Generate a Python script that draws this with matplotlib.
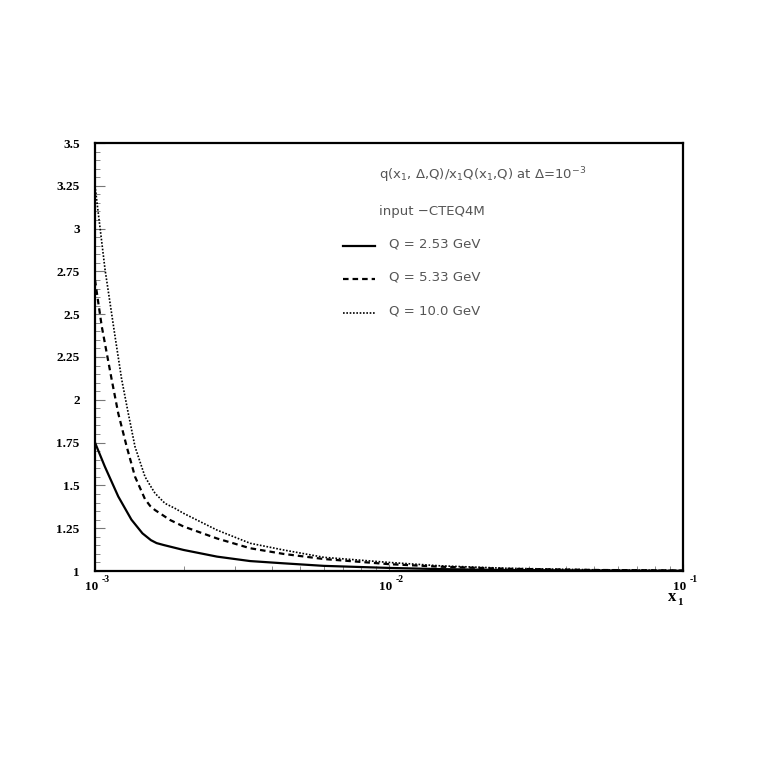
import matplotlib
matplotlib.use("Agg")
import matplotlib.pyplot as plt
import matplotlib.transforms as mtransforms
from matplotlib.ticker import LogLocator, NullFormatter, MultipleLocator

# ---- data ----
x_solid = [1.0e-3, 1.08e-3, 1.2e-3, 1.33e-3, 1.45e-3, 1.55e-3, 1.62e-3, 1.71e-3, 2.0e-3,
           2.6e-3, 3.37e-3, 4.37e-3, 6e-3, 1e-2, 1.5e-2, 2.5e-2, 5e-2, 1e-1]
y_solid = [1.75, 1.61, 1.435, 1.30, 1.22, 1.18, 1.163, 1.152, 1.123,
           1.084, 1.058, 1.045, 1.03, 1.018, 1.011, 1.006, 1.003, 1.001]

x_dash = [1.0e-3, 1.054e-3, 1.139e-3, 1.2e-3, 1.282e-3, 1.368e-3, 1.479e-3, 1.54e-3, 1.6e-3,
          1.8e-3, 2.0e-3, 2.6e-3, 3.37e-3, 4.37e-3, 6e-3, 1e-2, 1.5e-2, 2.5e-2, 5e-2, 1e-1]
y_dash = [2.70, 2.43, 2.12, 1.92, 1.726, 1.551, 1.42, 1.38, 1.356,
          1.298, 1.26, 1.19, 1.133, 1.10, 1.07, 1.04, 1.025, 1.013, 1.006, 1.003]

x_dot = [1.0e-3, 1.082e-3, 1.17e-3, 1.232e-3, 1.298e-3, 1.368e-3, 1.479e-3, 1.54e-3, 1.6e-3,
         1.73e-3, 1.87e-3, 2.0e-3, 2.6e-3, 3.37e-3, 4.37e-3, 6e-3, 1e-2, 1.5e-2, 2.5e-2, 5e-2, 1e-1]
y_dot = [3.25, 2.76, 2.37, 2.12, 1.92, 1.726, 1.551, 1.50, 1.454,
         1.395, 1.366, 1.337, 1.239, 1.162, 1.123, 1.08, 1.05, 1.03, 1.016, 1.007, 1.003]

labels = ["Q = 2.53 GeV", "Q = 5.33 GeV", "Q = 10.0 GeV"]
title_line = r"q(x$_1$, $\Delta$,Q)/x$_1$Q(x$_1$,Q) at $\Delta$=10$^{-3}$"
input_line = "input \u2212CTEQ4M"

y_ticks = [1, 1.25, 1.5, 1.75, 2, 2.25, 2.5, 2.75, 3, 3.25, 3.5]
y_ticklabels = ["1", "1.25", "1.5", "1.75", "2", "2.25", "2.5", "2.75", "3", "3.25", "3.5"]
x_ticks = [1e-3, 1e-2, 1e-1]
x_tick_exps = ["-3", "-2", "-1"]

# ---- figure ----
W = 763
fig = plt.figure(figsize=(7.63, 7.63), dpi=100)
ax = fig.add_axes([95/W, 1-571/W, (683-95)/W, (571-143)/W])

ax.plot(x_solid, y_solid, color="black", lw=1.6, ls="-")
ax.plot(x_dash, y_dash, color="black", lw=1.6, ls=(0, (2.5, 1.8)))
ax.plot(x_dot, y_dot, color="black", lw=1.2, ls=(0, (1, 1)))

ax.set_xscale("log")
ax.set_xlim(1e-3, 1e-1)
ax.set_ylim(1, 3.5)

for s in ax.spines.values():
    s.set_linewidth(1.6)

ax.set_yticks(y_ticks)
ax.set_yticklabels(y_ticklabels, fontfamily="Liberation Serif", fontweight="bold", fontsize=9.5)
ax.yaxis.set_minor_locator(MultipleLocator(0.05))
ax.tick_params(axis="y", which="major", direction="in", length=7, width=0.8, pad=11, color="#777777")
ax.tick_params(axis="y", which="minor", direction="in", length=3.5, width=0.6, color="#777777")

ax.set_xticks(x_ticks)
ax.set_xticklabels([])
ax.xaxis.set_minor_locator(LogLocator(base=10, subs=range(2, 10)))
ax.xaxis.set_minor_formatter(NullFormatter())
ax.tick_params(axis="x", which="major", direction="in", length=5, width=0.8, color="#777777")
ax.tick_params(axis="x", which="minor", direction="in", length=3.5, width=0.6, color="#777777")

# custom x tick labels "10" with raised exponent
off = mtransforms.offset_copy
for xv, ex in zip(x_ticks, x_tick_exps):
    base = mtransforms.blended_transform_factory(ax.transData, fig.transFigure)
    ax.text(xv, 1-590/W, "10", transform=off(base, fig=fig, x=3, y=0, units="dots"),
            ha="right", va="baseline", fontfamily="Liberation Serif", fontweight="bold",
            fontsize=9.5, clip_on=False)
    ax.text(xv, 1-582/W, ex, transform=off(base, fig=fig, x=7, y=0, units="dots"),
            ha="left", va="baseline", fontfamily="Liberation Serif", fontweight="bold",
            fontsize=7, clip_on=False)

# x-axis label
fig.text(676/W, 1-601/W, "x", ha="right", va="baseline",
         fontfamily="Liberation Serif", fontweight="bold", fontsize=12)
fig.text(677/W, 1-605/W, "1", ha="left", va="baseline",
         fontfamily="Liberation Serif", fontweight="bold", fontsize=8)

# annotation / legend block
tcol = "#555555"
fs = 9.5
fig.text(379/W, 1-175/W, title_line, ha="left", va="center", fontsize=fs, color=tcol,
         fontfamily="DejaVu Sans")
fig.text(379/W, 1-211/W, input_line, ha="left", va="center", fontsize=fs, color=tcol,
         fontfamily="DejaVu Sans")

styles = [dict(lw=1.6, ls="-"), dict(lw=1.6, ls=(0, (2.5, 1.8))), dict(lw=1.2, ls=(0, (1, 1)))]
ys_pix = [246, 279, 313]
for lab, st, yp in zip(labels, styles, ys_pix):
    fig.add_artist(plt.Line2D([343/W, 375/W], [1-yp/W, 1-yp/W], color="black", **st))
    fig.text(389/W, 1-(yp-2)/W, lab, ha="left", va="center", fontsize=fs, color=tcol,
             fontfamily="DejaVu Sans")

fig.savefig("out.png", dpi=100)
